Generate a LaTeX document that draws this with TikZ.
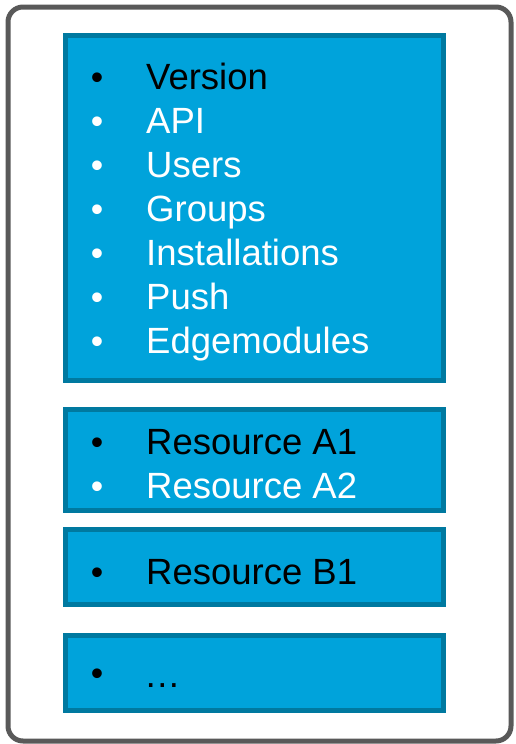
\documentclass[tikz,border=0pt]{standalone}
\usepackage{fontspec}
\setmainfont{Liberation Sans}
\definecolor{panelblue}{HTML}{00A3DB}
\definecolor{paneledge}{HTML}{0079A0}
\definecolor{framegray}{HTML}{595959}
\tikzset{
	panel/.style={draw=paneledge, fill=panelblue, line width=4.5pt},
	item/.style={anchor=base west, inner sep=0pt, font=\fontsize{36.5}{43}\selectfont},
	dot/.style={anchor=base, inner sep=0pt, font=\fontsize{35.5}{42}\selectfont}
}
\begin{document}
\begin{tikzpicture}[x=1pt,y=-1pt]
	\useasboundingbox (0,0) rectangle (515,744);
	\draw[framegray, line width=5pt, rounded corners=15pt] (8,7) rectangle (511,741);
	\draw[panel] (65.5,35.5) rectangle (443.5,380.5);
	\draw[panel] (65.5,409.5) rectangle (443.5,510.5);
	\draw[panel] (65.5,529.5) rectangle (443.5,604.5);
	\draw[panel] (65.5,635.5) rectangle (443.5,710.5);
	\node[dot] (b1) at (97,89) {•};
	\node[item] (version) at (146,89) {Version};
	\node[dot, white] (b2) at (97,133) {•};
	\node[item, white] (api) at (146,133) {API};
	\node[dot, white] (b3) at (97,177) {•};
	\node[item, white] (users) at (146,177) {Users};
	\node[dot, white] (b4) at (97,221) {•};
	\node[item, white] (groups) at (146,221) {Groups};
	\node[dot, white] (b5) at (97,265) {•};
	\node[item, white] (installations) at (146,265) {Installations};
	\node[dot, white] (b6) at (97,309) {•};
	\node[item, white] (push) at (146,309) {Push};
	\node[dot, white] (b7) at (97,353) {•};
	\node[item, white] (edgemodules) at (146,353) {Edgemodules};
	\node[dot] (b8) at (97,454) {•};
	\node[item] (resa1) at (146,454) {Resource A1};
	\node[dot, white] (b9) at (97,498) {•};
	\node[item, white] (resa2) at (146,498) {Resource A2};
	\node[dot] (b10) at (97,584) {•};
	\node[item] (resb1) at (146,584) {Resource B1};
	\node[dot] (b11) at (97,685) {•};
	\node[item] (more) at (144,687) {…};
\end{tikzpicture}
\end{document}
